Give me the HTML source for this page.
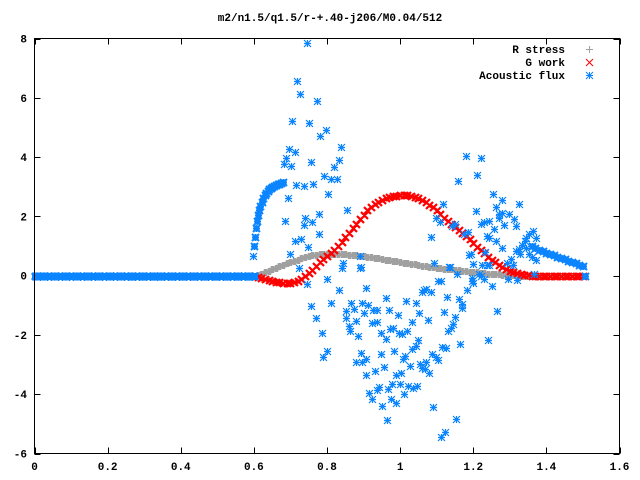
<!DOCTYPE html>
<html><head><meta charset="utf-8"><style>
body{margin:0;background:#fff}
svg{display:block}
text{font-family:"Liberation Mono",monospace;font-size:11px;font-weight:bold;fill:#000}
</style></head><body>
<svg id="chart" width="640" height="480" xmlns="http://www.w3.org/2000/svg">
<rect width="640" height="480" fill="#fff"/>
<text x="330" y="21" text-anchor="middle">m2/n1.5/q1.5/r-+.40-j206/M0.04/512</text>
<g id="axes"></g>
<g id="marks"></g>
<g id="legend">
<text x="565" y="53" text-anchor="end">R stress</text>
<text x="565" y="66" text-anchor="end">G work</text>
<text x="565" y="79" text-anchor="end">Acoustic flux</text>
</g>
<rect x="34.5" y="38.5" width="585" height="415" fill="none" stroke="#000" stroke-width="1"/>
</svg>
<script>
const xTicks=[0,0.2,0.4,0.6,0.8,1,1.2,1.4,1.6];
const xTickLabels=["0","0.2","0.4","0.6","0.8","1","1.2","1.4","1.6"];
const yTicks=[-6,-4,-2,0,2,4,6,8];
const yTickLabels=["-6","-4","-2","0","2","4","6","8"];
const curveX=[0.60,0.61,0.62,0.63,0.64,0.65,0.66,0.67,0.68,0.69,0.70,0.71,0.72,0.73,0.74,0.75,0.76,0.77,0.78,0.79,0.80,0.81,0.82,0.83,0.84,0.85,0.86,0.87,0.88,0.89,0.90,0.91,0.92,0.93,0.94,0.95,0.96,0.97,0.98,0.99,1.00,1.01,1.02,1.03,1.04,1.05,1.06,1.07,1.08,1.09,1.10,1.11,1.12,1.13,1.14,1.15,1.16,1.17,1.18,1.19,1.20,1.21,1.22,1.23,1.24,1.25,1.26,1.27,1.28,1.29,1.30,1.31,1.32,1.33,1.34,1.35,1.36,1.37,1.38,1.39,1.40,1.41,1.42,1.43,1.44,1.45,1.46,1.47,1.48,1.49,1.50];
const rStress=[0,.03,.07,.11,.16,.21,.26,.31,.36,.41,.46,.50,.54,.58,.62,.65,.68,.70,.72,.73,.74,.74,.74,.74,.73,.72,.71,.70,.68,.67,.65,.63,.62,.60,.58,.56,.54,.52,.50,.48,.46,.44,.42,.40,.38,.36,.34,.32,.30,.29,.27,.26,.24,.22,.21,.19,.18,.16,.15,.13,.12,.11,.09,.08,.07,.06,.05,.04,.03,.02,.01,.01,0,0,0,0,0,0,0,0,0,0,0,0,0,0,0,0,0,0,0];
const gWork=[0,-.04,-.08,-.12,-.15,-.18,-.21,-.23,-.25,-.26,-.26,-.23,-.18,-.10,0,.10,.20,.32,.45,.55,.65,.76,.88,1.01,1.15,1.30,1.45,1.60,1.75,1.90,2.05,2.20,2.32,2.42,2.50,2.56,2.61,2.65,2.68,2.70,2.71,2.72,2.71,2.69,2.66,2.62,2.56,2.49,2.40,2.30,2.20,2.08,1.96,1.85,1.75,1.65,1.55,1.44,1.33,1.22,1.10,.98,.86,.75,.64,.54,.45,.37,.30,.23,.17,.12,.08,.05,.03,.01,0,0,0,0,0,0,0,0,0,0,0,0,0,0,0];
const acZeroX=[0,.01,.02,.03,.04,.05,.06,.07,.08,.09,.10,.11,.12,.13,.14,.15,.16,.17,.18,.19,.20,.21,.22,.23,.24,.25,.26,.27,.28,.29,.30,.31,.32,.33,.34,.35,.36,.37,.38,.39,.40,.41,.42,.43,.44,.45,.46,.47,.48,.49,.50,.51,.52,.53,.54,.55,.56,.57,.58,.59,.60];
const acZeroY=[0,0,0,0,0,0,0,0,0,0,0,0,0,0,0,0,0,0,0,0,0,0,0,0,0,0,0,0,0,0,0,0,0,0,0,0,0,0,0,0,0,0,0,0,0,0,0,0,0,0,0,0,0,0,0,0,0,0,0,0,0];
const acArcX=[.600,.603,.606,.609,.612,.615,.618,.622,.626,.630,.634,.638,.642,.646,.650,.655,.660,.665,.670,.675,.680,1.36,1.37,1.38,1.39,1.40,1.41,1.42,1.43,1.44,1.45,1.46,1.47,1.48,1.49,1.50,1.505];
const acArcY=[1.0,1.3,1.6,1.85,2.05,2.2,2.35,2.5,2.62,2.72,2.8,2.87,2.93,2.97,3.0,3.03,3.06,3.08,3.1,3.12,3.15,1.0,.94,.88,.83,.78,.73,.68,.64,.6,.55,.5,.45,.41,.36,.32,0];
const acScatX=[.744,.719,.727,.774,.705,.752,.796,.782,.837,.697,.713,.689,.834,.683,.702,.757,.818,.793,.812,.826,.716,.738,.763,.804,.692,.856,.686,.741,.760,.779,.738,.777,1.084,.713,.73,.749,.598,.70,.845,.889,.84,.889,.724,.799,1.092,1.103,.832,.908,1.07,.746,.892,1.133,1.20,1.224,1.238,1.155,1.196,1.2,1.216,1.23,1.111,1.25,1.065,1.084,1.06,1.183,.96,1.128,1.16,1.168,1.168,.812,.867,.897,.911,1.015,1.043,.757,.853,.873,.925,.936,.969,.9,.993,1.051,1.12,1.265,.771,.853,1.15,1.076,.878,.922,.936,1.032,1.144,1.139,1.131,.859,.864,.785,.947,.971,.98,.996,1.004,1.018,.884,.96,1.048,1.24,1.164,1.043,1.032,1.114,1.125,.801,.788,.892,.947,.982,1.013,1.007,1.087,1.098,1.103,.908,.895,.878,.955,1.026,1.054,1.059,1.07,1.067,1.078,.93,.906,.988,1.002,.941,.936,.966,.977,.999,1.021,1.035,1.046,.914,.922,.974,.988,1.01,.95,1.089,.963,1.153,1.122,1.111,1.18,1.221,1.21,1.158,1.254,1.279,1.325,1.117,1.207,1.262,1.27,1.279,1.298,1.27,1.312,1.284,1.317,1.221,1.229,1.243,1.098,1.109,1.142,1.15,1.186,1.175,1.257,1.238,1.243,1.262,1.364,1.353,1.372,1.345,1.342,1.334,1.345,1.325,1.317,1.328,1.353,1.361,1.372,1.279,1.193,1.188,1.232,1.303,1.292,1.309,1.243,1.136,1.196,1.221,1.295,1.32,1.366];
const acScatY=[7.86,6.55,6.14,5.9,5.23,5.16,4.93,4.72,4.35,4.28,4.18,3.98,3.91,3.78,3.71,3.85,3.68,3.37,3.27,3.27,3.07,3.04,3.1,2.77,2.63,2.23,1.86,1.96,1.82,2.09,1.72,1.42,1.32,1.18,1.25,.98,.67,.74,.44,.67,.27,.27,.27,-.13,.44,-.17,-.5,-.4,-.44,-.27,.3,.3,.4,.37,.37,.07,-.17,-.24,.07,-.1,-.17,-.34,-.47,-.54,-.54,-.5,-.74,-.71,-.78,-.94,-1.08,-.91,-.91,-.91,-.98,-.84,-.91,-1.01,-1.18,-1.11,-1.15,-1.15,-1.15,-1.25,-1.32,-1.25,-1.21,-1.18,-1.42,-1.42,-1.38,-1.48,-1.52,-1.59,-1.55,-1.55,-1.62,-1.75,-1.86,-1.69,-1.86,-1.92,-1.92,-1.79,-1.75,-1.92,-1.96,-1.86,-2.02,-2.13,-2.16,-2.16,-2.29,-2.36,-2.46,-2.4,-2.43,-2.53,-2.73,-2.6,-2.63,-2.53,-2.7,-2.8,-2.63,-2.73,-2.83,-2.8,-2.9,-2.9,-3.07,-3.04,-2.97,-3.1,-2.9,-3.14,-3.27,-3.2,-3.34,-3.34,-3.27,-3.74,-3.85,-3.81,-3.64,-3.64,-3.71,-3.78,-3.71,-3.95,-4.15,-4.15,-4.29,-3.98,-4.39,-4.42,-4.86,-4.82,-5.26,-5.43,4.05,3.98,3.41,3.2,2.77,2.56,2.43,2.43,2.19,2.33,2.09,2.12,2.09,1.96,1.92,1.72,1.69,1.75,1.82,1.86,1.96,1.82,1.69,1.75,1.48,1.42,1.59,1.35,1.28,1.18,1.52,1.42,1.28,1.28,1.18,1.05,.94,.91,.84,.74,.74,.64,.54,.94,.74,.71,.81,.57,.44,.37,.37,.3,-.07,0,-.1,-.14,.07];

const NS="http://www.w3.org/2000/svg";
const X0=34.5,X1=619.5,Y0=453.5,Y1=38.5;
const xMin=0,xMax=1.6,yMin=-6,yMax=8;
function sx(v){return X0+(v-xMin)/(xMax-xMin)*(X1-X0);}
function sy(v){return Y0-(v-yMin)/(yMax-yMin)*(Y0-Y1);}
const axes=document.getElementById('axes');
const marks=document.getElementById('marks');
function mk(tag,attrs,parent){const e=document.createElementNS(NS,tag);for(const k in attrs)e.setAttribute(k,attrs[k]);parent.appendChild(e);return e;}
xTicks.forEach((t,i)=>{
  const x=Math.round(sx(t))+0.5;
  const a=mk('path',{d:`M${x} ${Y0}V${Y0-6}M${x} ${Y1}V${Y1+6}`,stroke:'#000','stroke-width':1},axes);
  
  
  const l=mk('text',{x:sx(t),y:470,'text-anchor':'middle'},axes);
  l.textContent=xTickLabels[i];
  
  
});
yTicks.forEach((t,i)=>{
  const y=Math.round(sy(t))+0.5;
  const a=mk('path',{d:`M${X0} ${y}H${X0+6}M${X1} ${y}H${X1-6}`,stroke:'#000','stroke-width':1},axes);
  
  
  const l=mk('text',{x:27,y:sy(t)+4,'text-anchor':'end'},axes);
  l.textContent=yTickLabels[i];
  
  
});
function plusD(x,y){return `M${x-3.5} ${y}H${x+3.5}M${x} ${y-3.5}V${y+3.5}`;}
function crossD(x,y){return `M${x-3.5} ${y-3.5}L${x+3.5} ${y+3.5}M${x-3.5} ${y+3.5}L${x+3.5} ${y-3.5}`;}
function starD(x,y){return plusD(x,y)+crossD(x,y);}
function series(xs,ys,fn,color,name,w){
  let d='';
  for(let i=0;i<xs.length;i++){d+=fn(Math.round(sx(xs[i]))+0.5,Math.round(sy(ys[i]))+0.5);}
  const p=mk('path',{d:d,stroke:color,'stroke-width':w,fill:'none'},marks);
  
  
}
const cR='#a0a0a0',cG='#ff0000',cA='#0a84ff';
series(curveX,rStress,plusD,cR,'r-stress-series',3.5);
series(curveX,gWork,crossD,cG,'g-work-series',2.2);
series(acZeroX,acZeroY,starD,cA,'acoustic-flux-zero-series',3);
series(acArcX,acArcY,starD,cA,'acoustic-flux-arc-series',2);
series(acScatX,acScatY,starD,cA,'acoustic-flux-scatter-series',1.2);
const leg=document.getElementById('legend');
let p=mk('path',{d:plusD(589.5,49.5),stroke:cR,fill:'none'},leg);


p=mk('path',{d:crossD(589.5,62.5),stroke:cG,fill:'none'},leg);


p=mk('path',{d:starD(589.5,75.5),stroke:cA,fill:'none'},leg);


</script>
</body></html>
